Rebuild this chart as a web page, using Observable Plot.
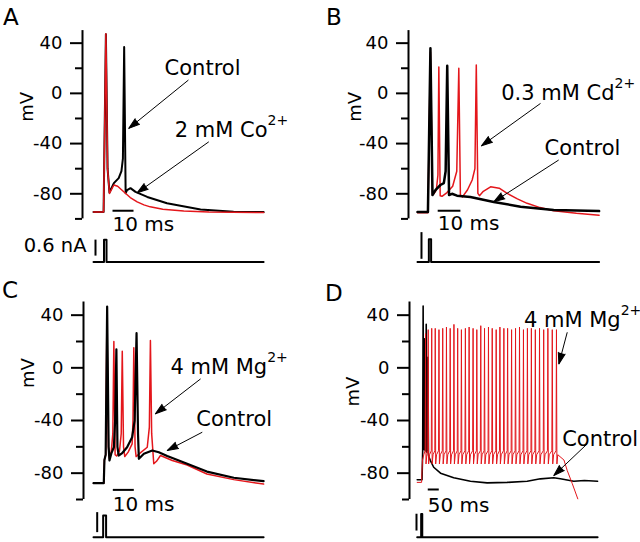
<!DOCTYPE html>
<html><head><meta charset="utf-8">
<script src="https://cdn.jsdelivr.net/npm/d3@7"></script>
<script src="https://cdn.jsdelivr.net/npm/@observablehq/plot@0.6"></script>
<style>
body{margin:0;background:#fff}
#fig{position:relative;width:640px;height:542px;overflow:hidden;font-family:"DejaVu Sans",sans-serif;color:#000}
#fig svg{position:absolute}
.letter{position:absolute;font-size:23px;line-height:23px}
</style></head>
<body><div id="fig">
<div class="letter" style="left:3px;top:6px">A</div>
<div class="letter" style="left:326px;top:6px">B</div>
<div class="letter" style="left:2px;top:279px">C</div>
<div class="letter" style="left:325px;top:282px">D</div>
</div>
<script>
const RED = "#e4161b";
const FONT = '"DejaVu Sans", sans-serif';

// axis
const yDomain = [-100, 50];
const majorTicks = [40, 0, -40, -80];
const minorTicks = [20, -20, -60, -100];

// ---------- Panel A : Control vs 2 mM Co2+ (time ms, mV) ----------
const aControlT = [0, 4.8, 5.9, 6.7, 7.6, 9.7, 12.0, 13.3, 14.0, 14.6, 15.3, 16.0, 17.6, 20.0, 25.6, 35.0, 51.0, 66.7, 81.0];
const aControlV = [-94.5, -94.5, 47, -60, -79, -71.5, -67.5, -62, -52, 37, -79.5, -77, -75.5, -78.5, -82.5, -87.5, -92.5, -94.3, -94.6];
const aCoT = [0, 4.8, 5.9, 6.7, 7.6, 9.7, 11.5, 14.4, 17.5, 20.8, 24.0, 27.0, 33.0, 43.0, 55.0, 81.0];
const aCoV = [-94.5, -94.5, 47.5, -60, -79.7, -73, -74, -78.4, -83, -86.4, -88.8, -90.4, -92.3, -93.8, -94.5, -95];
const aStimT = [0, 5.0, 5.0, 6.2, 6.2, 81];
const aStimI = [0, 0, 0.83, 0.83, 0, 0];

// ---------- Panel B : Control vs 0.3 mM Cd2+ ----------
const bControlT = [0, 4.6, 5.7, 6.6, 7.9, 10.1, 11.6, 12.4, 13.1, 13.9, 15.2, 17.4, 23.3, 33.6, 45.4, 60, 80];
const bControlV = [-94.5, -94.5, 36, -81, -77, -73, -71.5, -62, 22, -81, -80, -81.5, -82.5, -86.5, -90.3, -93, -93.8];
const bCdT = [0, 4.6, 5.7, 6.6, 7.2, 8.3, 9.0, 9.4, 10.0, 10.8, 13, 15.5, 17.3, 18.2, 18.9, 19.8, 22, 24.1, 25.3, 25.9, 26.6, 27.3, 29, 32.2, 36, 39.5, 44, 48.3, 54, 60, 70, 80];
const bCdV = [-95.1, -95.1, 33, -81, -80, -77, -65, 21, -81.5, -82, -79, -74, -62, 20, -81, -82.5, -77, -69, -60, 22.5, -79.7, -81.5, -78, -74.4, -75.5, -79.7, -84, -87.6, -91, -93.5, -95.5, -97];
const bStimT = [0, 5.0, 5.0, 6.0, 6.0, 80];
const bStimI = [0, 0, 0.85, 0.85, 0, 0];

// ---------- Panel C : Control vs 4 mM Mg2+ ----------
const cControlT = [0, 4.9, 5.2, 5.8, 6.5, 7.2, 7.6, 8.5, 9.7, 10.3, 10.9, 11.4, 12, 13.5, 16, 18.4, 19.6, 20.5, 21.2, 21.6, 24, 28, 31.1, 35.1, 44.6, 54, 66.8, 81];
const cControlV = [-87.6, -87.6, -70, -66, 46.5, -60, -70.4, -65, -60.3, -40, 14, -60, -66.6, -65, -60.3, -52.7, -40, 26.3, -50, -69.1, -65.3, -62.8, -64.1, -67, -72.9, -78.8, -83.5, -86.1];
const cMgT = [0, 4.9, 5.2, 5.8, 6.4, 7.1, 7.6, 8.5, 9.2, 9.7, 10.3, 11, 12.4, 13.2, 13.7, 14.3, 14.9, 16.5, 18.4, 18.8, 19.2, 19.8, 20.3, 22, 25.6, 26.6, 27.1, 27.7, 28.7, 30, 31.9, 37.5, 44.6, 54, 66.8, 81];
const cMgV = [-87.6, -87.6, -70, -66, 40, -60, -69, -63, -50, 20, -66, -67, -63, -50, 12.6, -60, -67.4, -64, -57.7, -40, 15.2, -60, -67.4, -65, -60.3, -45, 20.7, -50, -72.9, -71, -66.6, -70.4, -73.8, -80.6, -84.9, -88.3];
const cStimT = [0, 4.6, 4.6, 6.0, 6.0, 81];
const cStimI = [0, 0, 0.81, 0.81, 0, 0];

// ---------- Panel D : Control vs 4 mM Mg2+ (long pulse) ----------
const dControlT = [0, 22, 25, 27, 29, 32, 34, 36, 39, 41, 43, 46, 49, 51, 54, 60, 75, 106, 166, 242, 318, 409, 500, 560, 621, 651, 712, 760, 820];
const dControlV = [-85, -85, -62, 47, -62, -60, 22, -63, -60, 33, -64, -63, 8, -66, -68, -70.4, -75.5, -80, -83.5, -86.1, -87.4, -87, -86.1, -84.3, -83.5, -84.3, -86.1, -85.6, -86.1];
const dMgSpikeT = [38, 50, 66, 82, 99, 116, 133, 150, 167, 184, 201, 219, 236, 254, 271, 289, 306, 324, 341, 359, 376, 394, 411, 429, 447, 465, 483, 501, 519, 537, 556, 575, 594, 614, 633];
const dMgSpikeV = [26, 29, 30, 30, 29, 30, 31, 30, 33, 30, 29, 30, 31, 30, 29, 32, 30, 31, 30, 29, 31, 30, 30, 29, 30, 31, 29, 30, 30, 29, 30, 29, 30, 29, 29];
const dMgTrough = -73, dMgRecovery = -66, dMgThreshold = -63;
const dMgPreT = [0, 20, 24, 30];
const dMgPreV = [-87, -87, -70, -66];
const dMgPostT = [667, 682, 705, 730];
const dMgPostV = [-70, -78, -88, -99.5];
const dStimT = [0, 18, 18, 23, 23, 820];
const dStimI = [0, 0, 0.87, 0.87, 0, 0];

// build the D 4 mM Mg2+ table from the read spike times/peaks
const dMgRows = [];
dMgPreT.forEach((t, i) => dMgRows.push({t, v: dMgPreV[i]}));
dMgSpikeT.forEach((t, i) => {
  dMgRows.push({t: t - 2, v: dMgThreshold}, {t, v: dMgSpikeV[i]}, {t: t + 2, v: dMgTrough}, {t: t + 6, v: dMgRecovery});
});
dMgPostT.forEach((t, i) => dMgRows.push({t, v: dMgPostV[i]}));

function rows(t, v) { return t.map((d, i) => ({t: d, v: v[i]})); }

const panels = [
  { left: 0, top: 0, width: 320, height: 240, mL: 82, mR: 56.9, mT: 30.1, mB: 21.6, x: [-5.24, 81],
    traces: [{d: rows(aControlT, aControlV), c: "black", w: 2}, {d: rows(aCoT, aCoV), c: RED, w: 1.5}],
    mv: {v: -10.7, dx: -55},
    labels: {text: ["Control", "2 mM Co"], sup: ["", "2+"], t: [70, 82.9], v: [19.9, -29.5]},
    arrows: {t1: [45.2, 54.9], v1: [10.6, -38.6], t2: [16.8, 20.8], v2: [-27.9, -79.2]},
    bar: {t: [9.05, 19.05], v: -93.5, text: "10 ms", tv: -104.8},
    cur: { top: 226, height: 44, mT: 3.5, mB: 8.5, d: rows(aStimT, aStimI), barT: 0.95, barI: [0.24, 0.84], label: "0.6 nA", labelT: -3.3, labelI: 0.6 } },
  { left: 320, top: 0, width: 320, height: 240, mL: 88, mR: 41.4, mT: 30.1, mB: 21.6, x: [-3.96, 80],
    traces: [{d: rows(bCdT, bCdV), c: RED, w: 1.5}, {d: rows(bControlT, bControlV), c: "black", w: 2.5}],
    mv: {v: -10.7, dx: -53},
    labels: {text: ["0.3 mM Cd", "Control"], sup: ["2+", ""], t: [86.8, 89.4], v: [0, -43.8]},
    arrows: {t1: [54.2, 62.2], v1: [-8, -53.1], t2: [28.2, 33.6], v2: [-41.8, -86.4]},
    bar: {t: [8.9, 18.9], v: -93.5, text: "10 ms", tv: -103.8},
    cur: { top: 226, height: 44, mT: 3.5, mB: 8.5, d: rows(bStimT, bStimI), barT: 1.76, barI: [0.12, 1.12], label: "", labelT: 0, labelI: 0 } },
  { left: 0, top: 270, width: 320, height: 240, mL: 83, mR: 56.9, mT: 31.5, mB: 11, x: [-4.76, 81],
    traces: [{d: rows(cMgT, cMgV), c: RED, w: 1.5}, {d: rows(cControlT, cControlV), c: "black", w: 2.2}],
    mv: {v: -4, dx: -55.5},
    labels: {text: ["4 mM Mg", "Control"], sup: ["2+", ""], t: [82.7, 85.1], v: [0.5, -38.7]},
    arrows: {t1: [51, 51.8], v1: [-8.4, -48.9], t2: [29.5, 35.1], v2: [-34.9, -62.8]},
    bar: {t: [9.2, 19.2], v: -92.7, text: "10 ms", tv: -104},
    cur: { top: 500, height: 42, mT: 4.7, mB: 5.3, d: rows(cStimT, cStimI), barT: 1.76, barI: [0.19, 0.94], label: "", labelT: 0, labelI: 0 } },
  { left: 320, top: 270, width: 320, height: 240, mL: 89, mR: 42.9, mT: 31.5, mB: 11, x: [-35, 820],
    traces: [{d: rows(dControlT, dControlV), c: "black", w: 1.6}, {d: dMgRows, c: RED, w: 1}],
    mv: {v: -18, dx: -56.5},
    labels: {text: ["4 mM Mg", "Control"], sup: ["2+", ""], t: [925, 1004], v: [35.9, -54.5]},
    arrows: {t1: [682, 773], v1: [27, -57.7], t2: [644, 621], v2: [3, -81.8]},
    bar: {t: [48, 98], v: -92.4, text: "50 ms", tv: -104.6},
    cur: { top: 500, height: 42, mT: 4.7, mB: 5.3, d: rows(dStimT, dStimI), barT: -3.2, barI: [0.25, 0.88], label: "", labelT: 0, labelI: 0 } }
];

const fig = document.getElementById("fig");

function place(svg, left, top) {
  svg.style.left = left + "px";
  svg.style.top = top + "px";
  fig.appendChild(svg);
}

for (const p of panels) {
  const kx = (p.width - p.mL - p.mR) / (p.x[1] - p.x[0]);
  const ky = (p.height - p.mT - p.mB) / (yDomain[1] - yDomain[0]);
  const arrows = p.arrows.t1.map((_, i) => {
    const a = {x1: p.arrows.t1[i], y1: p.arrows.v1[i], x2: p.arrows.t2[i], y2: p.arrows.v2[i]};
    const dx = (a.x2 - a.x1) * kx, dy = -(a.y2 - a.y1) * ky;
    a.angle = Math.atan2(dx, -dy) * 180 / Math.PI;
    return a;
  });
  const labels = p.labels.text.map((s, i) => ({s, sup: p.labels.sup[i], t: p.labels.t[i], v: p.labels.v[i]}));
  const bar = {t1: p.bar.t[0], t2: p.bar.t[1], v: p.bar.v};

  const svg = Plot.plot({
    width: p.width, height: p.height,
    marginLeft: p.mL, marginRight: p.mR, marginTop: p.mT, marginBottom: p.mB,
    x: {domain: p.x, axis: null},
    y: {domain: yDomain, axis: null, label: null},
    style: {fontFamily: FONT, background: "none", overflow: "visible", color: "black"},
    marks: [
      Plot.ruleX([p.x[0]], {y1: yDomain[0], y2: yDomain[1], stroke: "black", strokeWidth: 2}),
      Plot.axisY({ticks: majorTicks, tickSize: 12, tickPadding: 8, fontSize: 18, strokeWidth: 2, label: null, tickFormat: d => String(d)}),
      Plot.axisY({ticks: minorTicks, tickSize: 7, strokeWidth: 2, label: null, tickFormat: () => ""}),
      Plot.text(["mV"], {x: p.x[0], y: p.mv.v, dx: p.mv.dx, rotate: -90, fontSize: 18}),
      ...p.traces.map(tr => Plot.line(tr.d, {x: "t", y: "v", stroke: tr.c, strokeWidth: tr.w, strokeLinejoin: "round"})),
      Plot.link([bar], {x1: "t1", x2: "t2", y1: "v", y2: "v", stroke: "black", strokeWidth: 2}),
      Plot.text([p.bar.text], {x: bar.t1, y: p.bar.tv, textAnchor: "start", fontSize: 20}),
      Plot.text(labels, {x: "t", y: "v", text: "s", textAnchor: "end", fontSize: 21}),
      Plot.text(labels.filter(d => d.sup), {x: "t", y: "v", text: "sup", textAnchor: "start", fontSize: 14, dy: -10}),
      Plot.link(arrows, {x1: "x1", y1: "y1", x2: "x2", y2: "y2", stroke: "black", strokeWidth: 1}),
      Plot.vector(arrows, {x: "x2", y: "y2", rotate: "angle", length: 11, anchor: "end", shape: "spike", r: 3.5, fill: "black", stroke: "black", strokeWidth: 1})
    ]
  });
  place(svg, p.left, p.top);

  const c = p.cur;
  const curSvg = Plot.plot({
    width: p.width, height: c.height,
    marginLeft: p.mL, marginRight: p.mR, marginTop: c.mT, marginBottom: c.mB,
    x: {domain: p.x, axis: null},
    y: {domain: [0, 1.2], axis: null, label: null},
    style: {fontFamily: FONT, background: "none", overflow: "visible", color: "black"},
    marks: [
      Plot.line(c.d, {x: "t", y: "v", stroke: "black", strokeWidth: 2}),
      Plot.link([c], {x1: "barT", x2: "barT", y1: d => d.barI[0], y2: d => d.barI[1], stroke: "black", strokeWidth: 2}),
      Plot.text(c.label ? [c.label] : [], {x: c.labelT, y: c.labelI, textAnchor: "end", fontSize: 19.5})
    ]
  });
  place(curSvg, p.left, c.top);
}
</script>
</body></html>
